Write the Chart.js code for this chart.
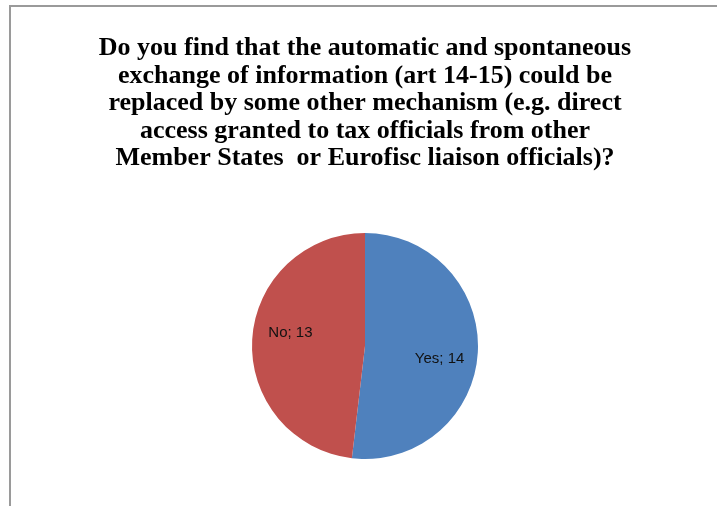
<!DOCTYPE html>
<html>
<head>
<meta charset="utf-8">
<script src="https://cdn.jsdelivr.net/npm/chart.js@4/dist/chart.umd.min.js"></script>
<style>
  html, body { margin: 0; padding: 0; background: #fff; overflow: hidden; }
  #wrap { position: relative; width: 717px; height: 506px; }
  #frame {
    position: absolute; left: 9px; top: 5px; width: 800px; height: 600px;
    border-left: 2px solid #9a9a9a; border-top: 2px solid #9a9a9a;
  }
</style>
</head>
<body>
<div id="wrap">
  <canvas id="chart" width="717" height="506"></canvas>
  <div id="frame"></div>
</div>
<script>
const answers = ["Yes", "No"];
const counts = [14, 13];
const sliceColors = ["#4f81bd", "#c0504d"];
const titleLines = [
  "Do you find that the automatic and spontaneous",
  "exchange of information (art 14-15) could be",
  "replaced by some other mechanism (e.g. direct",
  "access granted to tax officials from other",
  "Member States  or Eurofisc liaison officials)?"
];

// "Yes; 14" style labels inside each slice, a bit past the middle angle
const sliceLabels = {
  id: "sliceLabels",
  afterDatasetsDraw(chart) {
    const ctx = chart.ctx;
    const meta = chart.getDatasetMeta(0);
    ctx.save();
    ctx.font = "15px 'Liberation Sans', Arial, sans-serif";
    ctx.fillStyle = "#111";
    ctx.textAlign = "center";
    ctx.textBaseline = "middle";
    meta.data.forEach((arc, i) => {
      const p = arc.getProps(["x", "y", "startAngle", "endAngle", "outerRadius"], true);
      const a = (p.startAngle + p.endAngle) / 2 + 0.115;
      const r = p.outerRadius * 0.67;
      ctx.fillText(answers[i] + "; " + counts[i], p.x + Math.cos(a) * r, p.y + Math.sin(a) * r);
    });
    ctx.restore();
  }
};

new Chart(document.getElementById("chart"), {
  type: "pie",
  data: {
    labels: answers,
    datasets: [{ data: counts, backgroundColor: sliceColors, borderWidth: 0, hoverBorderWidth: 0, hoverOffset: 0 }]
  },
  options: {
    responsive: false,
    animation: false,
    events: [],
    layout: { padding: { left: 13, right: 0, top: 0, bottom: 47 } },
    plugins: {
      legend: { display: false },
      tooltip: { enabled: false },
      title: {
        display: true,
        text: titleLines,
        color: "#000",
        font: { family: "'Liberation Serif', 'Times New Roman', serif", size: 26, weight: "bold", lineHeight: 27.5 / 26 },
        padding: { top: 35, bottom: 60.5 }
      }
    }
  },
  plugins: [sliceLabels]
});
</script>
</body>
</html>
